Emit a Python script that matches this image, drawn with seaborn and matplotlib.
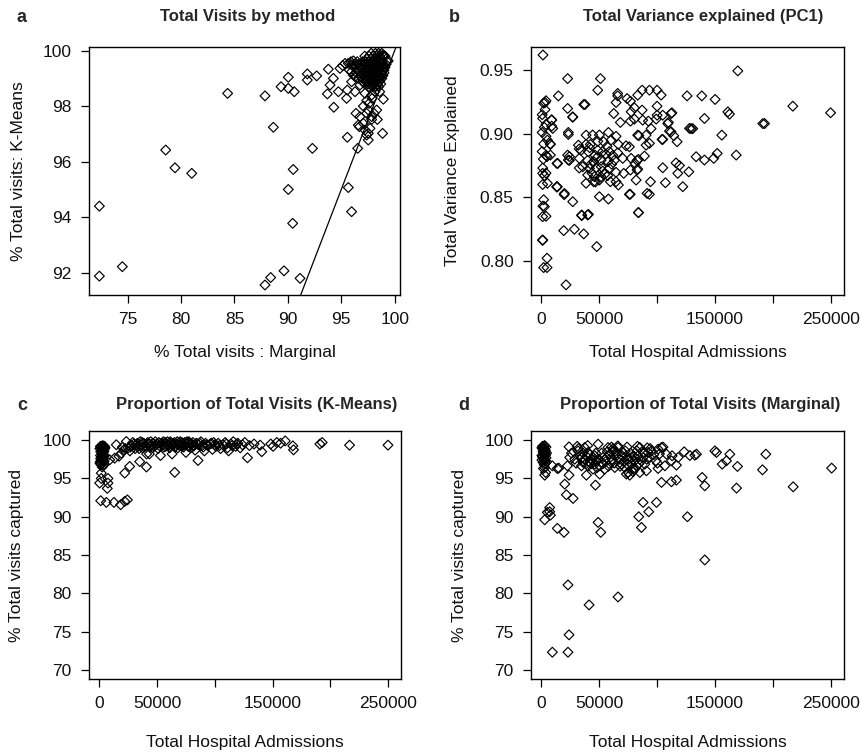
import matplotlib
matplotlib.use("Agg")
import matplotlib.pyplot as plt
import seaborn as sns
import pandas as pd

# ---------------- Panel a: Total visits by method ----------------
marginal_a = [72.35, 72.35, 74.5, 78.56, 79.43, 81.0, 84.36, 87.86, 88.64, 87.86, 88.39, 89.64, 91.14,
              89.36, 90.04, 90.04, 90.6, 90.5, 90.04, 90.45, 91.82, 91.82, 92.7, 92.3, 93.79, 93.95,
              93.7, 94.26, 94.3, 94.73, 94.88, 95.57, 95.66, 95.97, 95.5, 95.57, 95.35, 96.29, 96.54,
              96.7, 96.38, 96.75, 97.07, 97.53, 97.53, 97.69, 97.85, 98.07, 98.32, 98.38, 98.87, 98.94,
              98.16, 98.6, 95.97, 96.13, 95.75, 96.75, 97.22, 97.6, 97.9, 97.38, 97.07, 99.4, 98.94,
              95.13, 95.66, 96.13, 95.97, 96.29, 97.38, 97.85, 97.53, 97.85, 96.6, 97.22, 97.38,
              97.2, 97.6, 98.0, 98.3, 98.6, 98.9, 99.1,
              95.9, 96.5, 97.0, 97.3, 97.6, 97.9, 98.2, 98.5, 98.8, 99.3,
              96.2, 96.8, 97.1, 97.4, 97.7, 98.0, 98.3, 98.6, 98.9, 99.1,
              96.4, 96.9, 97.2, 97.5, 97.8, 98.1, 98.4, 98.7, 99.0,
              96.6, 97.0, 97.3, 97.6, 97.9, 98.2, 98.5, 98.8,
              97.2, 97.5, 97.8, 98.1, 98.4, 98.7,
              97.4, 97.8, 98.1, 98.4, 98.7, 96.0, 96.6,
              97.8, 98.2, 98.5, 98.8,
              96.3, 96.9, 97.2, 97.5, 97.8, 98.1, 98.4, 98.7, 99.0, 99.2,
              96.5, 97.0, 97.3, 97.6, 97.9, 98.2, 98.5, 98.8, 99.0,
              96.8, 97.1, 97.4, 97.7, 98.0, 98.3, 98.6, 98.9,
              97.0, 97.4, 97.7, 98.0, 98.3, 98.6,
              97.6, 97.9, 98.2, 98.5]
kmeans_a = [94.40, 91.88, 92.22, 96.42, 95.78, 95.58, 98.46, 98.37, 97.24, 91.56, 91.83, 92.07, 91.80,
            98.70, 99.04, 98.64, 98.52, 95.72, 95.0, 93.78, 99.16, 98.94, 99.09, 96.48, 99.33, 98.76,
            98.44, 99.0, 97.96, 98.52, 99.36, 96.88, 95.07, 94.20, 98.28, 98.58, 99.54, 98.52, 96.48,
            97.26, 97.74, 97.62, 98.0, 97.02, 96.78, 97.2, 97.52, 97.74, 97.86, 97.52, 97.02, 98.25,
            98.52, 98.52, 98.88, 99.12, 99.30, 98.76, 98.46, 98.1, 98.28, 97.74, 97.38, 99.63, 99.84,
            99.46, 99.54, 99.63, 99.24, 99.06, 98.2, 98.4, 97.86, 97.62, 97.32, 97.14, 96.96,
            99.8, 99.8, 99.8, 99.8, 99.8, 99.8, 99.8,
            99.6, 99.6, 99.6, 99.6, 99.6, 99.6, 99.6, 99.6, 99.6, 99.6,
            99.4, 99.4, 99.4, 99.4, 99.4, 99.4, 99.4, 99.4, 99.4, 99.4,
            99.2, 99.2, 99.2, 99.2, 99.2, 99.2, 99.2, 99.2, 99.2,
            99.0, 99.0, 99.0, 99.0, 99.0, 99.0, 99.0, 99.0,
            98.8, 98.8, 98.8, 98.8, 98.8, 98.8,
            99.7, 99.7, 99.7, 99.7, 99.7, 99.5, 99.5,
            99.9, 99.9, 99.9, 99.9,
            99.5, 99.5, 99.5, 99.5, 99.5, 99.5, 99.5, 99.5, 99.5, 99.5,
            99.3, 99.3, 99.3, 99.3, 99.3, 99.3, 99.3, 99.3, 99.3,
            99.1, 99.1, 99.1, 99.1, 99.1, 99.1, 99.1, 99.1,
            98.9, 98.9, 98.9, 98.9, 98.9, 98.9,
            98.7, 98.7, 98.7, 98.7]

# ---------------- Panel b: Total variance explained (PC1) ----------------
admissions_b = [1700, 4300, 2300, 3500, 1000, 1400, 2900, 1000, 4300, 5500, 2300, 1000, 4300, 2000,
                1500, 4300, 2900, 5500, 1400, 2300, 1700, 4300, 1400, 1400, 2900, 1400, 1400, 5200,
                2300, 5200, 8100, 3500, 8100, 4300, 9200, 10100, 5200, 9200, 9200, 8000, 13800,
                23000, 51300, 49000, 87300, 93600, 100200, 15000, 66200, 66200, 83500, 103700, 126100,
                74300, 77200, 36900, 38000, 64800, 80600, 87300, 100200, 23000, 27400, 62800, 77800,
                80600, 77200, 87800, 92700, 99400, 112300, 113000, 68500, 110000, 100200, 128200,
                110900, 114600, 117500, 83500, 84500, 90700, 93600, 105100, 23600, 23600, 24500,
                24500, 23000, 23600, 14400, 13800, 13800,
                38900, 44600, 50400, 58200, 64800, 32300, 38900, 42600, 49000, 54100, 60500, 66800,
                73400, 76300, 34600, 40900, 46700, 53300, 59000, 66200, 33100, 40300, 45500, 51800,
                57600, 63400, 70600, 77800, 82900, 36000, 41800, 47500, 53300, 59000, 64800, 71400,
                77200, 83500, 40300, 46100, 51800, 57600, 38900, 45500, 50400, 59900, 64800, 66800,
                95000, 90700, 89300, 84100, 81200, 82900, 82100, 91600, 94500, 84100, 105100,
                104500, 105100, 107400, 109400, 112300, 116600, 119500, 118100, 122400, 127600,
                20000, 19600, 21600, 28800, 36900, 48100, 35100, 40900, 84100, 50400, 58200, 76300,
                77000, 93600, 20200, 13800, 27400, 27400, 33000, 33000, 35100, 40300,
                129600, 131000, 133900, 138800, 141100, 141100, 150300, 149100, 152100, 156100,
                161300, 162700, 168500, 169900, 191500, 193000, 217400, 250000,
                43000, 48000, 52000, 56000, 61000, 44000, 49000, 55000, 62000, 47000, 57000, 42000]
variance_b = [0.962, 0.926, 0.924, 0.919, 0.915, 0.912, 0.905, 0.901, 0.898, 0.895, 0.892, 0.886,
              0.883, 0.880, 0.873, 0.869, 0.867, 0.861, 0.860, 0.848, 0.843, 0.835, 0.8347, 0.816,
              0.8426, 0.8164, 0.8688, 0.802, 0.7946, 0.7946, 0.8916, 0.9246, 0.8832, 0.9073,
              0.9107, 0.9042, 0.882, 0.906, 0.911, 0.892, 0.858,
              0.9434, 0.9434, 0.9343, 0.9343, 0.9343, 0.9343, 0.9298, 0.9317, 0.9298, 0.9304,
              0.9304, 0.9298, 0.9277, 0.9256, 0.923, 0.923, 0.9246, 0.9204, 0.9186, 0.9217, 0.9199,
              0.9133, 0.9159, 0.9173, 0.9115, 0.9099, 0.9107, 0.9099, 0.9115, 0.9159, 0.9165,
              0.9089, 0.9089, 0.9146, 0.9042, 0.9021, 0.8984, 0.8937, 0.8989, 0.8985, 0.8989,
              0.8924, 0.8955, 0.901, 0.8994, 0.882, 0.879, 0.8832, 0.8793, 0.8766, 0.8766, 0.8583,
              0.8989, 0.899, 0.899, 0.901, 0.898, 0.891, 0.8916, 0.8916, 0.894, 0.8937, 0.895, 0.8916,
              0.8905, 0.8897, 0.887, 0.8858, 0.883, 0.886, 0.886, 0.885, 0.8806, 0.879, 0.878, 0.879,
              0.878, 0.879, 0.8806, 0.8806, 0.879, 0.874, 0.8727, 0.8732, 0.8706, 0.8727, 0.8696,
              0.8688, 0.8714, 0.8722, 0.8675, 0.8662, 0.8662, 0.867, 0.861, 0.8622, 0.8635, 0.8622,
              0.8622, 0.8596,
              0.904, 0.891, 0.8824, 0.8798, 0.8766, 0.8714, 0.8635, 0.853, 0.8622, 0.8379, 0.9146,
              0.8955, 0.8732, 0.8614, 0.908, 0.9015, 0.877, 0.875, 0.8688, 0.8583, 0.870,
              0.852, 0.8237, 0.781, 0.8248, 0.8211, 0.8111, 0.8355, 0.8365, 0.8379, 0.8504, 0.8486,
              0.8523, 0.8523, 0.8523, 0.853, 0.8583, 0.8465, 0.913, 0.888, 0.873, 0.836, 0.836,
              0.904, 0.904, 0.8819, 0.9298, 0.912, 0.8793, 0.927, 0.8806, 0.8845, 0.8989,
              0.9172, 0.9154, 0.8832, 0.9495, 0.908, 0.908, 0.9217, 0.9165,
              0.876, 0.881, 0.874, 0.884, 0.876, 0.869, 0.887, 0.868, 0.883, 0.862, 0.890, 0.889]

# ---------------- Panel c: Proportion of total visits (K-Means) ----------------
admissions_c = [1000, 1500, 2500, 3500, 1200, 2200, 3000, 4000, 1800, 2800, 3800, 1000, 2000, 3500,
                4500, 1500, 2500, 4200, 3000, 2000, 1200, 4600,
                500, 1500, 2500, 3500, 4500, 1000, 2000, 3000, 4000, 1500, 500, 2500, 3500, 4500,
                5000, 3000,
                1700, 300, 1700, 7500, 7500, 6900, 1200, 6100, 12700, 18500, 22000, 24300,
                9000, 13300, 14700, 17000, 19100, 21400, 23400, 20000, 22500,
                22000, 26300, 35000, 40800, 65300, 85500, 191000, 193000, 216700, 250000,
                25000, 26500, 28000, 30000, 31000, 33000, 34000, 35500, 36500, 37500, 38500, 40000,
                41000, 42000, 43000, 43400, 44000, 45000, 46500, 47500, 48500, 50000, 51000, 52000,
                53000, 54000, 55000, 56000, 57000, 58000, 59000, 60000, 61000, 62000, 63000, 64000,
                65000, 66000, 67000, 68000, 69000, 70000, 71000, 72000, 73000, 74000, 75000, 76000,
                77000, 78000, 79000, 80000, 81000, 82000, 83000, 84000, 86000, 88000, 90000, 91000,
                92000, 94000, 96000, 98000, 99000, 101000, 103000, 105000, 107000, 109000, 111000,
                112000, 114000, 116000, 118000, 120000, 122000, 124000, 126000, 128300, 130000,
                134000, 139300, 140700, 148500, 150500, 153700, 157000, 161000, 167600, 168200,
                27000, 29000, 32000, 34500, 37000, 39000, 41500, 44500, 46000, 49000, 51500, 53500,
                55500, 57500, 59500, 61500, 63500, 65500, 67500, 69500, 71500, 73500, 75500, 77500,
                79500, 81500, 85000, 87000, 89000, 93000, 97000, 100000, 104000, 110000, 115000,
                119000]
kmeans_c = [99.2, 99.0, 98.8, 99.1, 98.5, 98.2, 98.0, 98.6, 97.8, 97.5, 97.9, 97.2, 97.0, 97.3,
            98.9, 96.8, 96.5, 96.9, 99.3, 99.2, 97.6, 97.5,
            98.9, 99.1, 99.0, 98.4, 98.0, 98.0, 98.6, 97.7, 97.2, 97.4, 97.0, 97.8, 96.7, 99.2,
            99.0, 99.0,
            95.7, 94.4, 95.0, 95.0, 94.4, 93.7, 92.09, 91.87, 91.87, 91.57, 92.0, 92.2,
            97.43, 97.65, 99.4, 97.9, 98.3, 98.74, 99.83, 99.1, 98.9,
            95.7, 96.57, 97.2, 96.5, 95.8, 97.35, 99.5, 99.7, 99.35, 99.35,
            99.0, 98.6, 99.3, 99.5, 98.9, 99.6, 99.2, 99.8, 99.4, 99.0, 99.6, 99.3,
            98.2, 99.7, 99.5, 98.2, 99.1, 99.4, 99.6, 99.2, 99.8, 99.5, 98.9, 99.3,
            98.0, 99.6, 99.4, 99.1, 99.7, 99.5, 99.8, 99.3, 99.0, 99.6, 98.2, 99.4,
            99.7, 99.2, 99.5, 99.0, 99.6, 99.8, 99.3, 99.5, 99.1, 99.7, 98.4, 99.8,
            99.2, 99.6, 99.0, 99.5, 99.7, 99.3, 98.7, 99.6, 99.4, 99.8, 99.1, 98.6,
            99.6, 99.3, 99.5, 98.8, 99.7, 99.2, 99.6, 98.9, 99.4, 99.7, 99.0,
            98.6, 99.5, 99.8, 99.2, 99.6, 99.0, 99.4, 99.7, 97.7, 99.3,
            99.5, 99.35, 98.5, 99.5, 99.2, 99.7, 99.6, 99.9, 99.26, 98.74,
            99.1, 99.7, 99.4, 98.9, 99.7, 99.1, 99.5, 99.8, 99.0, 99.4, 99.7, 99.5,
            99.8, 99.2, 99.4, 99.8, 99.5, 99.1, 99.8, 99.3, 99.7, 99.4, 99.6, 99.8,
            99.4, 99.2, 99.5, 99.6, 99.3, 99.4, 99.6, 99.4, 99.3, 99.5, 99.3,
            99.5]

# ---------------- Panel d: Proportion of total visits (Marginal) ----------------
admissions_d = [1000, 2000, 3000, 4000, 1500, 2500, 3500, 1000, 2000, 3000, 4000, 1500, 2500, 3500,
                4500, 1200, 2800, 1800,
                500, 1500, 2500, 3500, 500, 1500, 2500, 3500, 4500, 500, 3000, 2000,
                2900, 5200, 7200, 7800, 7200, 13800, 19600, 23000, 23900, 23000, 9500, 41200, 66200,
                49000, 51300, 21600, 27400, 20200, 23900, 22500, 13800, 15000, 2900, 3700, 2900, 9500,
                38900, 46700, 50400, 84100, 86400, 87800, 92700, 99400, 103700, 112300, 116600,
                126100, 138800, 141100, 141100, 149800, 151200, 156100, 159800, 162700, 169300,
                168500, 190900, 193800, 217400, 250600, 128200, 132500, 133900, 123300,
                23900, 49000, 24500, 31700, 37400, 40300, 43200, 46100, 36000, 40300, 46100, 51800,
                56200, 57600, 61900, 64800, 66200, 69100, 73400, 74900, 76300, 79200, 80600, 85000,
                83500, 87800, 92200, 93600, 95000, 100800, 103700, 100200, 100800, 106600, 108000,
                112300, 112900, 116600, 118100,
                28800, 33100, 34600, 37400, 41800, 44600, 47500, 50400, 53300, 54700, 59000, 60500,
                63400, 67700, 70600, 72000, 77800, 77800, 82100, 89300, 90700, 85000, 73400,
                31000, 40000, 60500, 66000, 74000, 83000, 91500, 105000,
                26000, 30000, 32000, 35000, 36000, 38500, 39000, 42000, 43000, 45000, 47000, 48000,
                49500, 52000, 53000, 55500, 57000, 58000, 61000, 62000, 63000, 65000, 66500, 68000,
                69500, 71000, 72500, 74000, 75500, 77000, 79000, 80000, 81000, 82500, 84000, 86500,
                88000, 91000, 94000, 97000, 99000, 102000]
marginal_d = [99.2, 99.0, 98.8, 99.1, 98.5, 98.2, 98.0, 97.8, 97.5, 97.3, 97.7, 97.1, 96.8, 98.6,
              98.3, 99.0, 99.3, 96.3,
              99.0, 98.8, 99.2, 98.4, 98.0, 97.9, 97.6, 97.0, 97.2, 97.4, 98.5, 98.3,
              89.6, 90.57, 90.65, 90.2, 91.2, 88.48, 87.96, 81.09, 74.57, 72.3, 72.3, 78.48, 79.52,
              89.26, 87.96, 92.87, 92.39, 94.26, 95.43, 96.65, 96.3, 96.35, 96.43, 95.78, 95.43, 96.65,
              95.43, 94.13, 95.57, 90.0, 88.6, 91.87, 90.65, 91.87, 94.48, 94.57, 94.78,
              90.0, 95.13, 94.04, 84.35, 98.6, 98.4, 96.87, 97.3, 98.17, 96.57,
              93.74, 96.13, 98.17, 93.91, 96.35, 98.0, 98.04, 98.17, 98.48,
              99.13, 99.48, 97.74, 98.6, 99.04, 98.4, 97.5, 97.96, 97.1, 96.65, 96.87, 97.1,
              97.74, 99.04, 98.6, 97.96, 99.04, 96.87, 97.96, 95.78, 95.43, 96.22, 97.3, 99.04,
              97.96, 97.74, 98.4, 97.74, 98.6, 98.83, 99.04, 97.0, 96.3, 96.65, 98.17,
              97.3, 97.96, 96.74, 97.74,
              97.52, 97.96, 96.65, 97.52, 97.09, 96.22, 97.3, 96.65, 97.74, 96.22, 98.17, 97.09,
              96.43, 97.52, 98.39, 96.43, 97.74, 96.87, 96.65, 96.87, 96.0, 95.78, 95.57,
              99.2, 99.3, 99.1, 99.25, 99.1, 99.2, 99.0, 99.1,
              98.3, 97.0, 98.9, 97.7, 98.3, 96.9, 97.9, 98.1, 96.9, 97.7, 98.3, 96.4,
              97.5, 98.3, 96.9, 97.2, 98.5, 96.6, 97.5, 98.9, 97.0, 98.3, 97.7, 96.6,
              98.0, 97.2, 98.6, 96.9, 97.5, 98.3, 95.9, 97.9, 96.3, 98.6, 96.9, 97.3,
              98.4, 97.5, 98.9, 98.1, 97.3, 98.2]

x_ticks_adm = [0, 50000, 100000, 150000, 200000, 250000]
x_ticklabels_adm = ["0", "50000", "", "150000", "", "250000"]

sns.set_style("ticks")
plt.rcParams["font.family"] = ["Liberation Sans", "DejaVu Sans"]
plt.rcParams["font.size"] = 12

W, H = 862, 753
fig = plt.figure(figsize=(W / 100, H / 100), dpi=100)


def px_axes(l, t, r, b):
    return fig.add_axes([l / W, 1 - b / H, (r - l) / W, (b - t) / H])


def style(ax):
    for s in ax.spines.values():
        s.set_visible(True)
        s.set_color("black")
        s.set_linewidth(1.0)
    ax.tick_params(direction="out", length=5.5, width=0.9, color="black",
                   labelsize=12.5, pad=7, labelcolor="#111111")
    ax.set_facecolor("white")


def scatter(ax, x, y):
    df = pd.DataFrame({"x": x, "y": y})
    sns.scatterplot(data=df, x="x", y="y", ax=ax, marker="D", s=25,
                    facecolor="none", edgecolor="black", linewidth=0.85, legend=False)


axa = px_axes(89, 47, 400, 295)
axb = px_axes(531, 47, 844, 295)
axc = px_axes(89, 431, 401, 679)
axd = px_axes(531, 431, 844, 679)

# panel a
scatter(axa, marginal_a, kmeans_a)
axa.axline((0, 0), slope=1, color="black", lw=0.9)
axa.set_xlim(71.38, 100.5)
axa.set_ylim(91.2, 100.13)
axa.set_xticks([75, 80, 85, 90, 95, 100])
axa.set_yticks([92, 94, 96, 98, 100])

# panel b
scatter(axb, admissions_b, variance_b)
axb.set_xlim(-8640, 261580)
axb.set_ylim(0.773, 0.9683)
axb.set_yticks([0.80, 0.85, 0.90, 0.95])
axb.set_yticklabels(["0.80", "0.85", "0.90", "0.95"])

# panels c, d
scatter(axc, admissions_c, kmeans_c)
scatter(axd, admissions_d, marginal_d)
for ax in (axc, axd):
    ax.set_xlim(-8930, 261270)
    ax.set_ylim(68.8, 101.2)
    ax.set_yticks([70, 75, 80, 85, 90, 95, 100])
for ax in (axb, axc, axd):
    ax.set_xticks(x_ticks_adm)
    ax.set_xticklabels(x_ticklabels_adm)

for ax in (axa, axb, axc, axd):
    style(ax)

labels = [
    (axa, "% Total visits : Marginal", "% Total visits: K-Means", -0.23, -0.228),
    (axb, "Total Hospital Admissions", "Total Variance Explained", -0.233, -0.25),
    (axc, "Total Hospital Admissions", "% Total visits captured", -0.255, -0.232),
    (axd, "Total Hospital Admissions", "% Total visits captured", -0.255, -0.229),
]
for ax, xl, yl, xy, yx in labels:
    ax.set_xlabel(xl, fontsize=12.5, color="#111111")
    ax.set_ylabel(yl, fontsize=12.5, color="#111111")
    ax.xaxis.set_label_coords(0.5, xy)
    ax.yaxis.set_label_coords(yx, 0.5)
    ax.xaxis.label.set_va("center")
    ax.yaxis.label.set_va("center")

titles = [
    ("a", 22, 17, "Total Visits by method", 248, 17),
    ("b", 454, 17, "Total Variance explained (PC1)", 703, 17),
    ("c", 22, 405, "Proportion of Total Visits (K-Means)", 257, 404),
    ("d", 464, 405, "Proportion of Total Visits (Marginal)", 700, 404),
]
for letter, lx, ly, t, tx, ty in titles:
    fig.text(lx / W, 1 - ly / H, letter, fontsize=13, fontweight="bold", ha="center", va="center")
    fig.text(tx / W, 1 - ty / H, t, fontsize=12, fontweight="bold", ha="center", va="center")

fig.savefig("out.png", dpi=100, facecolor="white")
